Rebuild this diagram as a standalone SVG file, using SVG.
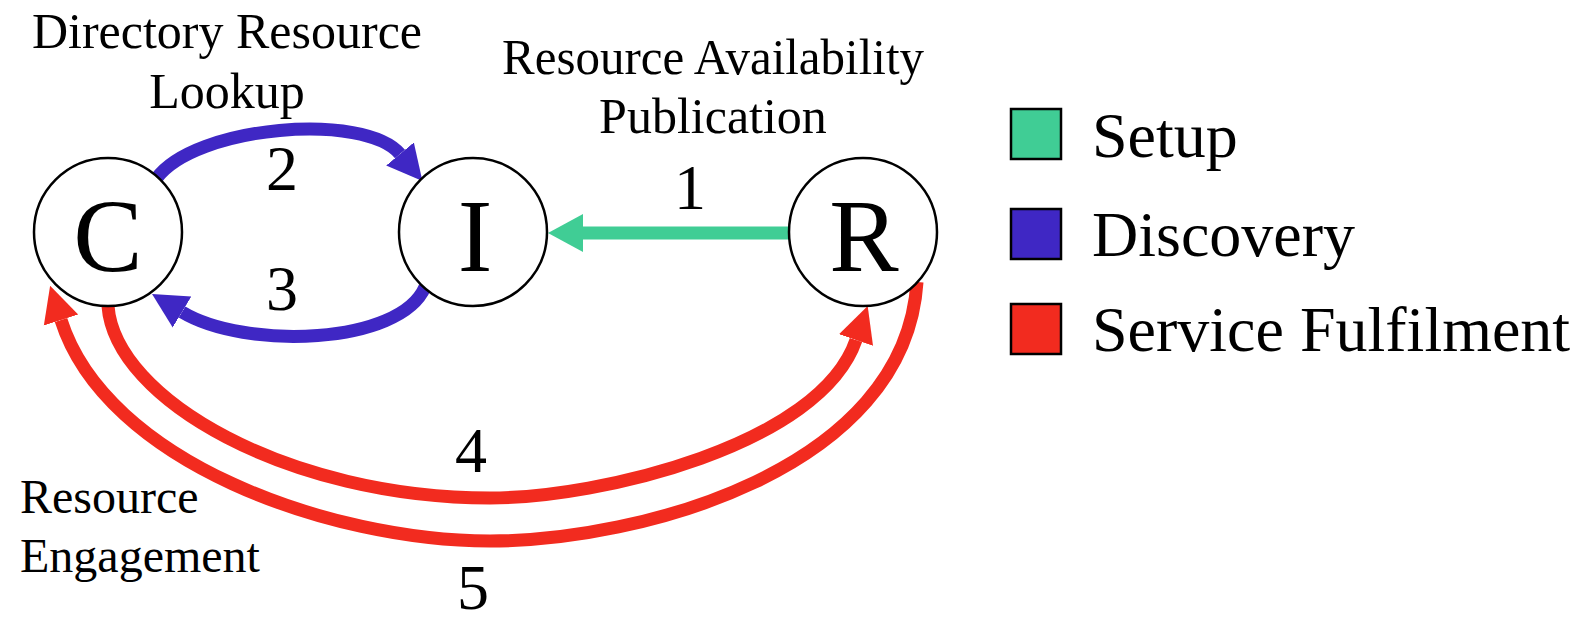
<svg xmlns="http://www.w3.org/2000/svg" width="1584" height="617" viewBox="0 0 1584 617">
  <style>
    text { font-family: 'Liberation Serif', 'Times New Roman', serif; fill: #000; }
    .node circle { fill: #fff; stroke: #000; stroke-width: 2.5; }
    .node text { font-size: 104px; text-anchor: middle; }
    .lbl { font-size: 50px; text-anchor: middle; }
    .lft { font-size: 48px; text-anchor: start; }
    .num { font-size: 64px; text-anchor: middle; }
    .leg { font-size: 64px; }
    .edge { fill: none; stroke-width: 13; }
    .setup { stroke: #40cd95; }
    .disc { stroke: #3f27c4; }
    .serv { stroke: #f22b1f; }
    .sw { stroke: #000; stroke-width: 2.5; }
  </style>
  <defs>
    <marker id="headGreen" markerUnits="userSpaceOnUse" markerWidth="36" markerHeight="40" refX="0" refY="19" orient="auto">
      <path d="M0,0 L35,19 L0,38 z" fill="#40cd95"/>
    </marker>
    <marker id="headBlue" markerUnits="userSpaceOnUse" markerWidth="36" markerHeight="40" refX="0" refY="19" orient="auto">
      <path d="M0,1 L35,19 L0,37 z" fill="#3f27c4"/>
    </marker>
    <marker id="headRed" markerUnits="userSpaceOnUse" markerWidth="36" markerHeight="40" refX="0" refY="19" orient="auto">
      <path d="M0,1 L36,19 L0,37 z" fill="#f22b1f"/>
    </marker>
  </defs>

  <rect width="1584" height="617" fill="#fff"/>

  <!-- connectors -->
  <g id="connectors">
    <path id="e1" class="edge setup" d="M790,233 H583" marker-end="url(#headGreen)"/>
    <path id="e2" class="edge disc" d="M156,179 C195,125 365,112 400,154" marker-end="url(#headBlue)"/>
    <path id="e3" class="edge disc" d="M425,287 C400,345 245,350 182,312" marker-end="url(#headBlue)"/>
    <path id="e4" class="edge serv" d="M108,306 C115,400 290,498 490,498 C600,498 820,445 856,340" marker-end="url(#headRed)"/>
    <path id="e5" class="edge serv" d="M917,282 C905,470 640,541 490,541 C330,541 106,462 61,320" marker-end="url(#headRed)"/>
  </g>

  <!-- connector labels -->
  <g id="edge-labels">
    <text class="lbl" x="227" y="48">Directory Resource</text>
    <text class="lbl" x="227" y="108">Lookup</text>
    <text class="lbl" x="713" y="74" textLength="422" lengthAdjust="spacingAndGlyphs">Resource Availability</text>
    <text class="lbl" x="713" y="133">Publication</text>
    <text class="lft" x="20" y="513">Resource</text>
    <text class="lft" x="20" y="572">Engagement</text>
    <text class="num" x="690" y="209">1</text>
    <text class="num" x="282" y="190">2</text>
    <text class="num" x="282" y="310">3</text>
    <text class="num" x="471" y="472">4</text>
    <text class="num" x="473" y="609">5</text>
  </g>

  <!-- nodes -->
  <g id="node-C" class="node">
    <circle cx="108" cy="232" r="74"/>
    <text x="108" y="271">C</text>
  </g>
  <g id="node-I" class="node">
    <circle cx="473" cy="232" r="74"/>
    <text x="475" y="271">I</text>
  </g>
  <g id="node-R" class="node">
    <circle cx="863" cy="232" r="74"/>
    <text x="864" y="271">R</text>
  </g>

  <!-- legend -->
  <g id="legend">
    <rect class="sw" x="1011" y="109" width="50" height="50" fill="#40cd95"/>
    <text class="leg" x="1092" y="157">Setup</text>
    <rect class="sw" x="1011" y="209" width="50" height="50" fill="#3f27c4"/>
    <text class="leg" x="1092" y="256">Discovery</text>
    <rect class="sw" x="1011" y="304" width="50" height="50" fill="#f22b1f"/>
    <text class="leg" x="1092" y="351">Service Fulfilment</text>
  </g>
</svg>
